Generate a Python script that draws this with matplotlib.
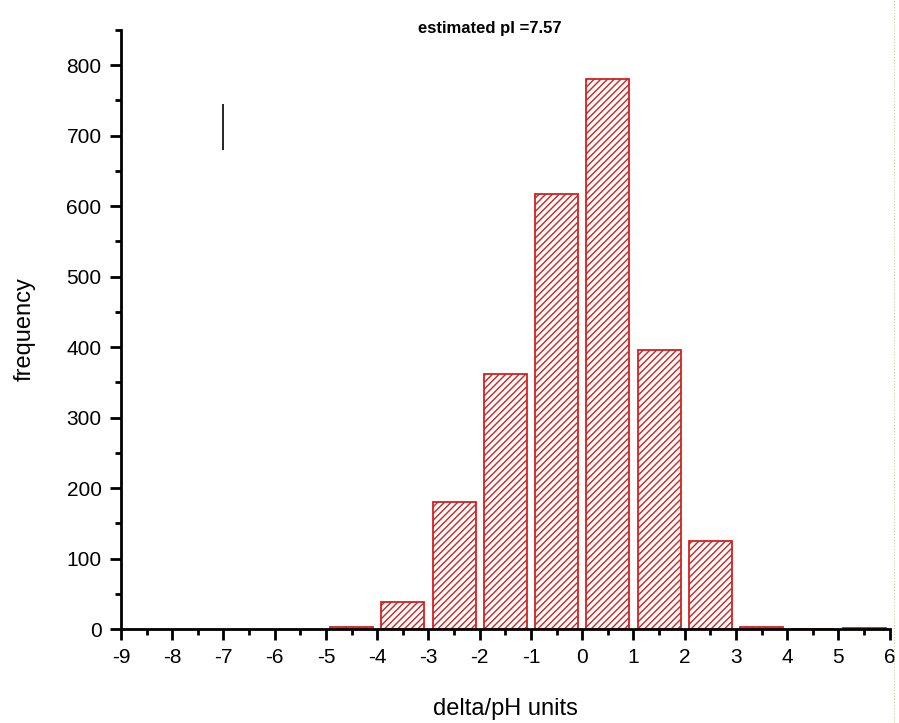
import matplotlib
matplotlib.use("Agg")
import matplotlib.pyplot as plt
from matplotlib.ticker import MultipleLocator

plt.rcParams.update({
    "font.family": "Liberation Sans",
    "axes.unicode_minus": False,
    "hatch.color": "#d42020",
    "hatch.linewidth": 1.0,
})

# ── Data ──────────────────────────────────────────────────────────────────────
bin_centers = [-4.5, -3.5, -2.5, -1.5, -0.5, 0.5, 1.5, 2.5, 3.5, 4.5, 5.5]
frequency   = [3, 38, 180, 362, 617, 781, 396, 125, 3, 0, 2]
x_ticks     = list(range(-9, 7))
y_ticks     = list(range(0, 801, 100))
title_text  = "estimated pI =7.57"

fig = plt.figure(figsize=(8.99, 7.23), dpi=100)
ax = fig.add_axes([0.1346, 0.130, 0.855, 0.8285])

ax.bar(bin_centers, frequency, width=0.84, facecolor="white",
       edgecolor="#d42020", linewidth=1.3, hatch="/////")

# stray marker in the original plot
ax.vlines(-7, 680, 745, color="black", linewidth=1.2)

ax.set_xlim(-9, 6)
ax.set_ylim(0, 850)
ax.set_xticks(x_ticks)
ax.set_yticks(y_ticks)
ax.xaxis.set_minor_locator(MultipleLocator(0.5))
ax.yaxis.set_minor_locator(MultipleLocator(50))
ax.tick_params(which="major", direction="out", length=8, width=2,
               labelsize=15, pad=6)
ax.tick_params(which="minor", direction="out", length=4, width=2)

for s in ("top", "right"):
    ax.spines[s].set_visible(False)
for s in ("left", "bottom"):
    ax.spines[s].set_linewidth(2)

ax.set_xlabel("delta/pH units", fontsize=17, labelpad=22)
ax.set_ylabel("frequency", fontsize=17, labelpad=22)
fig.text(0.545, 0.961, title_text, ha="center", va="center",
         fontsize=12, fontweight="bold")

# dotted frame line at the right edge
fig.add_artist(plt.Line2D([0.994, 0.994], [0.0, 1.0], color="#cccc99",
                          linestyle=":", linewidth=0.8))

fig.savefig("out.png", dpi=100)
